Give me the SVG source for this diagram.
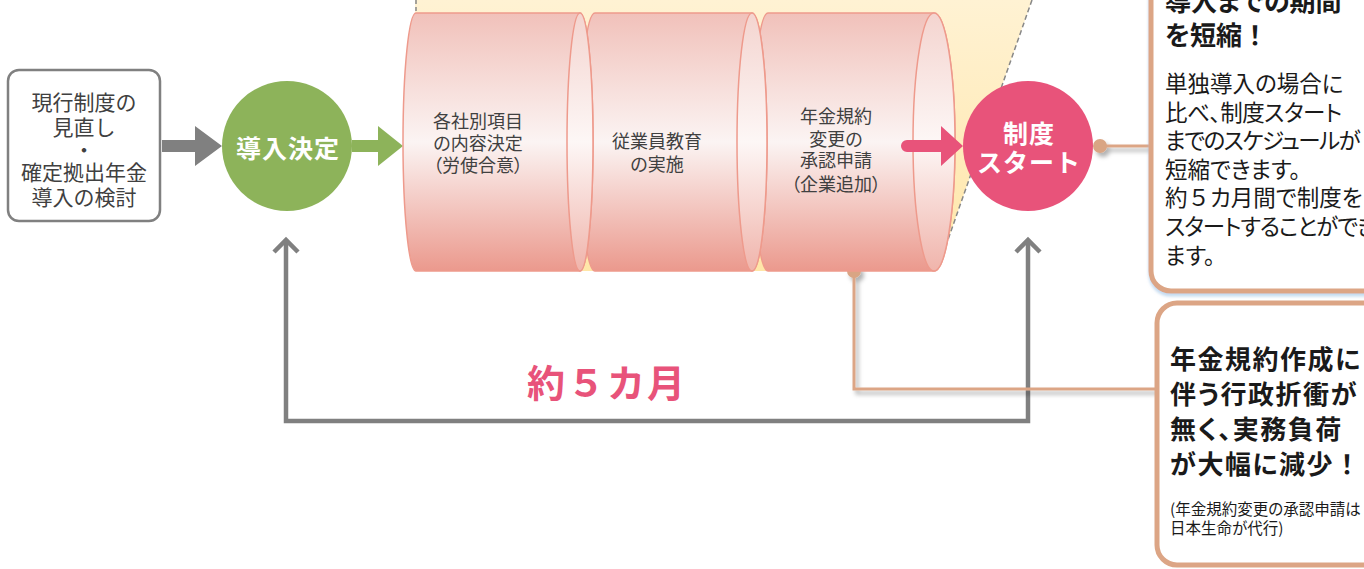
<svg xmlns="http://www.w3.org/2000/svg" width="1364" height="569" viewBox="0 0 1364 569">
<style>
text{font-family:"Noto Sans CJK JP","Noto Sans",sans-serif;}
.lt{font-size:21px;fill:#404040;text-anchor:middle;}
.ct{font-size:18px;fill:#404040;text-anchor:middle;font-feature-settings:"palt";}
.wt{font-size:25px;font-weight:bold;fill:#fff;text-anchor:middle;letter-spacing:1px;}
.hb{font-size:26px;font-weight:bold;fill:#1a1a1a;font-feature-settings:"palt";}
.bt{font-size:22.5px;fill:#1a1a1a;font-feature-settings:"palt";}
.sm{font-size:15.5px;fill:#1a1a1a;font-feature-settings:"palt";}
.fw{font-feature-settings:normal;}
.cyl{fill:url(#gBody);stroke:#EE9A8C;stroke-width:1.5;}
.cap{fill:url(#gCap);stroke:#EE9A8C;stroke-width:1.5;}
.tan{fill:none;stroke:#DCA585;stroke-width:3;}
.gray{fill:none;stroke:#808080;stroke-width:4.5;}
.box{fill:#fff;stroke:#DCA585;stroke-width:5;}
</style>
<defs>
<linearGradient id="gBody" x1="0" y1="0" x2="0" y2="1">
<stop offset="0" stop-color="#F1C1BA"/>
<stop offset="0.5" stop-color="#FBF4F3"/>
<stop offset="1" stop-color="#EB998D"/>
</linearGradient>
<linearGradient id="gCap" x1="0" y1="0" x2="0" y2="1">
<stop offset="0" stop-color="#F4D4CF"/>
<stop offset="0.5" stop-color="#FDF7F6"/>
<stop offset="1" stop-color="#F0B4AB"/>
</linearGradient>
<linearGradient id="gYel" x1="0" y1="0" x2="0" y2="1">
<stop offset="0" stop-color="#FFF2D3"/>
<stop offset="1" stop-color="#FFE6A8"/>
</linearGradient>
<filter id="sh" x="-10%" y="-10%" width="130%" height="130%">
<feDropShadow dx="3" dy="4" stdDeviation="2" flood-color="#000" flood-opacity="0.3"/>
</filter>
<filter id="bsh" x="-10%" y="-10%" width="130%" height="130%">
<feDropShadow dx="0" dy="3" stdDeviation="1.5" flood-color="#9CC3E6" flood-opacity="0.6"/>
</filter>
</defs>
<rect width="1364" height="569" fill="#fff"/>

<g id="backdrop">
<polygon points="415,0 1032,0 937,271 415,271" fill="url(#gYel)"/>
<line x1="416" y1="0" x2="416" y2="14" stroke="#888" stroke-width="1.5" stroke-dasharray="4 3"/>
<line x1="1032" y1="0" x2="937" y2="271" stroke="#888" stroke-width="1.5" stroke-dasharray="5 3"/>
</g>

<g id="box-current">
<rect x="8" y="70" width="152" height="151" rx="11" fill="#fff" stroke="#808080" stroke-width="2.5"/>
<text class="lt" x="84" y="110">現行制度の</text>
<text class="lt" x="84" y="135">見直し</text>
<text class="lt" x="84" y="158">・</text>
<text class="lt" x="84" y="180">確定拠出年金</text>
<text class="lt" x="84" y="205">導入の検討</text>
</g>

<g id="connectors">
<polygon points="162,140 195,140 195,126 222,146 195,166 195,152 162,152" fill="#808080"/>
<polygon points="352,140 378,140 378,126 403,146 378,166 378,152 352,152" fill="#8DB35A"/>
<path class="gray" d="M286,241 L286,421 L1028,421 L1028,241"/>
<path class="gray" d="M274,252 L286,240 L298,252"/>
<path class="gray" d="M1016,252 L1028,240 L1040,252"/>
<g filter="url(#sh)">
<path class="tan" d="M1100,146 L1150,146"/>
<circle cx="1100" cy="146" r="7" fill="#D9A584"/>
<path class="tan" d="M854,271 L854,389 L1157,389"/>
<circle cx="854" cy="271" r="7" fill="#D9A584"/>
</g>
</g>

<g id="cyl3">
<path class="cyl" d="M768,13 L934,13 A21,129 0 0 1 934,271 L768,271 A15,129 0 0 1 768,13 Z"/>
<ellipse class="cap" cx="934" cy="142" rx="21" ry="129"/>
<text class="ct" x="836" y="123">年金規約</text>
<text class="ct" x="836" y="145.5">変更の</text>
<text class="ct" x="836" y="167">承認申請</text>
<text class="ct" x="836" y="190.5">（企業追加）</text>
</g>
<g id="cyl2">
<path class="cyl" d="M595,13 L752,13 A15,129 0 0 1 752,271 L595,271 A15,129 0 0 1 595,13 Z"/>
<ellipse class="cap" cx="752" cy="142" rx="15" ry="129"/>
<text class="ct" x="657" y="148">従業員教育</text>
<text class="ct" x="657" y="171">の実施</text>
</g>
<g id="cyl1">
<path class="cyl" d="M416,13 L580,13 A13,129 0 0 1 580,271 L416,271 A13,129 0 0 1 416,13 Z"/>
<ellipse class="cap" cx="580" cy="142" rx="13" ry="129"/>
<text class="ct" x="478" y="128">各社別項目</text>
<text class="ct" x="478" y="149.5">の内容決定</text>
<text class="ct" x="478" y="171.5">（労使合意）</text>
</g>

<g id="pink-arrow">
<path d="M907,140 L941,140 L941,126 L963,146 L941,166 L941,152 L907,152 A6,6 0 0 1 907,140 Z" fill="#E8537A"/>
</g>

<g id="node-decision">
<circle cx="287" cy="146" r="65" fill="#8DB35A"/>
<text class="wt" x="288" y="157.5">導入決定</text>
</g>

<g id="node-start">
<circle cx="1028" cy="146" r="65" fill="#E8537A"/>
<text class="wt" x="1029" y="143">制度</text>
<text class="wt" x="1029" y="171.5">スタート</text>
</g>

<g id="label-period">
<text x="607" y="397" font-size="38" font-weight="bold" fill="#E8537A" text-anchor="middle" letter-spacing="2">約５カ月</text>
</g>

<g id="box-top" filter="url(#bsh)">
<rect class="box" x="1151" y="-40" width="260" height="331" rx="20"/>
</g>
<g id="box-top-text">
<text class="hb" x="1165" y="11">導入までの期間</text>
<text class="hb" x="1165" y="45">を短縮<tspan class="fw">！</tspan></text>
<text class="bt" x="1165" y="92">単独導入の場合に</text>
<text class="bt" x="1165" y="120.5" letter-spacing="-0.5">比べ、制度スタート</text>
<text class="bt" x="1165" y="149" letter-spacing="-1.5">までのスケジュールが</text>
<text class="bt" x="1165" y="177.5">短縮できます。</text>
<text class="bt" x="1165" y="206">約<tspan class="fw">５</tspan>カ月間で制度を</text>
<text class="bt" x="1165" y="235" letter-spacing="-1">スタートすることができ</text>
<text class="bt" x="1165" y="264">ます。</text>
</g>

<g id="box-bottom">
<rect class="box" x="1157" y="303" width="260" height="262" rx="20"/>
<text class="hb" x="1170" y="369" letter-spacing="1.5">年金規約作成に</text>
<text class="hb" x="1170" y="404" letter-spacing="1.5">伴う行政折衝が</text>
<text class="hb" x="1170" y="439" letter-spacing="1.5">無く、実務負荷</text>
<text class="hb" x="1170" y="474" letter-spacing="1.5">が大幅に減少<tspan class="fw">！</tspan></text>
<text class="sm" x="1170" y="515">(年金規約変更の承認申請は</text>
<text class="sm" x="1170" y="534">日本生命が代行)</text>
</g>
</svg>
